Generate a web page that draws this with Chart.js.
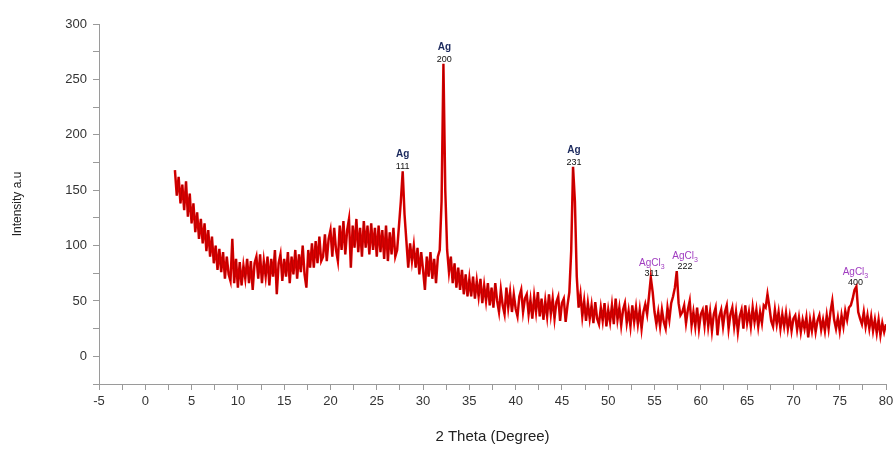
<!DOCTYPE html>
<html>
<head>
<meta charset="utf-8">
<script src="https://cdn.jsdelivr.net/npm/chart.js@4.4.1/dist/chart.umd.min.js"></script>
<style>
html,body{margin:0;padding:0;background:#fff;}
#wrap{width:896px;height:451px;position:relative;}
</style>
</head>
<body>
<div id="wrap"><canvas id="c" width="896" height="451"></canvas></div>
<script>
// 2-theta scan: start angle and step (degrees)
const scanStart = 3.2;
const scanStep = 0.2;

const intensity3to20 = [
  168,145,162,138,155, 132,158,126,147,120, 138,112,130,106,124, 102,120,95,114,90,
  108,84,100,78,97, 76,94,70,90,74, 68,106,66,88,62, 85,64,82,70,88,
  66,86,60,84,90, 70,92,66,86,72, 90,64,88,72,96, 56,84,92,68,88,
  72,94,66,90,74, 96,70,92,76,100, 74,62,96,80,102, 80,104,84,108,86,
  90,110,86,106,114
];
const intensity20to40 = [
  90,116,96,86,118, 96,122,92,114,124, 80,118,98,124,94, 116,90,122,98,118,
  92,120,96,116,90, 118,94,114,88,118, 86,112,92,116,90, 96,118,140,167,128,
  104,80,102,86,100, 80,98,74,94,78, 60,90,72,94,70, 88,66,90,96,140,
  264,150,96,76,90, 66,84,62,80,60, 78,56,74,54,70, 54,72,52,68,54,
  70,48,64,50,66, 46,62,44,66,50, 40,60,46,38,62, 44,58,40,56,43
];
const intensity40to60 = [
  36,54,60,40,52, 56,38,51,34,54, 40,58,36,52,33, 50,36,56,38,52,
  34,49,54,32,48, 52,31,46,58,95, 171,140,72,44,56, 36,50,32,48,34,
  46,30,49,34,29, 44,32,48,27,42, 31,46,29,52,33, 44,28,42,48,30,
  41,27,46,31,44, 29,42,25,40,47, 38,54,71,58,40, 29,40,27,42,31,
  25,44,33,48,54, 62,77,48,37,40, 46,30,42,50,28, 40,27,44,25,38
];
const intensity60to80 = [
  42,28,46,27,40, 23,38,44,19,36, 42,27,40,46,25, 38,44,27,40,22,
  36,42,25,46,30, 40,27,44,31,42, 27,40,30,46,44, 56,45,32,27,42,
  29,40,25,38,27, 39,25,36,23,34, 37,24,35,22,33, 25,35,17,33,23,
  35,22,32,37,24, 33,23,37,25,40, 50,33,25,35,23, 37,27,41,33,44,
  46,52,60,63,40, 34,29,40,27,37, 25,36,23,33,21, 33,19,30,22,29
];

// Peak labels
const peakLabelX = [27.8, 32.3, 46.3, 54.7, 58.3, 76.7];
const peakTop    = [167, 264, 171, 71, 77, 63];
const peakPhase  = ['Ag', 'Ag', 'Ag', 'AgCl3', 'AgCl3', 'AgCl3'];
const peakHkl    = ['111', '200', '231', '311', '222', '400'];

// Axis tick labels
const xTickLabels = ['-5','0','5','10','15','20','25','30','35','40','45','50','55','60','65','70','75','80'];
const yTickLabels = ['0','50','100','150','200','250','300'];

const intensity = [].concat(intensity3to20, intensity20to40, intensity40to60, intensity60to80);
const points = intensity.map((v, i) => ({ x: +(scanStart + i * scanStep).toFixed(2), y: v }));

const labelPlugin = {
  id: 'peakLabels',
  afterDatasetsDraw(chart) {
    const ctx = chart.ctx;
    const xs = chart.scales.x, ys = chart.scales.y;
    ctx.save();
    ctx.textAlign = 'left';
    ctx.textBaseline = 'alphabetic';
    peakLabelX.forEach((px, i) => {
      const cx = xs.getPixelForValue(px);
      const top = ys.getPixelForValue(peakTop[i]);
      ctx.font = '9px "Liberation Sans", Arial, sans-serif';
      ctx.fillStyle = '#111';
      const hw = ctx.measureText(peakHkl[i]).width;
      ctx.fillText(peakHkl[i], cx - hw / 2, top - 2);
      if (peakPhase[i] === 'Ag') {
        ctx.font = 'bold 10px "Liberation Sans", Arial, sans-serif';
        ctx.fillStyle = '#1c2a5e';
        const w = ctx.measureText('Ag').width;
        ctx.fillText('Ag', cx - w / 2, top - 14);
      } else {
        ctx.font = '10px "Liberation Sans", Arial, sans-serif';
        const w1 = ctx.measureText('AgCl').width;
        ctx.font = '7px "Liberation Sans", Arial, sans-serif';
        const w2 = ctx.measureText('3').width;
        const sx = cx - (w1 + w2) / 2;
        ctx.fillStyle = '#a03cc0';
        ctx.font = '10px "Liberation Sans", Arial, sans-serif';
        ctx.fillText('AgCl', sx, top - 12);
        ctx.font = '7px "Liberation Sans", Arial, sans-serif';
        ctx.fillText('3', sx + w1, top - 9);
      }
    });
    ctx.restore();
  }
};

new Chart(document.getElementById('c'), {
  type: 'line',
  data: {
    datasets: [
      {
        data: points,
        borderColor: 'rgba(50,0,0,0.45)',
        borderWidth: 0.5,
        pointRadius: 0,
        tension: 0,
        order: 0
      },
      {
        data: points,
        borderColor: '#e40000',
        borderWidth: 2.5,
        pointRadius: 0,
        tension: 0,
        order: 1
      }
    ]
  },
  options: {
    responsive: false,
    animation: false,
    events: [],
    layout: { padding: { top: 24, right: 10, bottom: 0, left: 0 } },
    plugins: { legend: { display: false }, tooltip: { enabled: false } },
    scales: {
      x: {
        type: 'linear',
        min: -5, max: 80,
        border: { color: '#9a9a9a', width: 1 },
        grid: { drawOnChartArea: false, tickLength: 6, color: '#9a9a9a' },
        ticks: {
          stepSize: 2.5,
          autoSkip: false,
          maxRotation: 0,
          padding: 4,
          color: '#333',
          font: { family: '"Liberation Sans", Arial, sans-serif', size: 13 },
          callback: (v) => { const s = String(v); return xTickLabels.includes(s) ? s : ''; }
        },
        title: {
          display: true,
          text: '2 Theta (Degree)',
          color: '#222',
          font: { family: '"Liberation Sans", Arial, sans-serif', size: 15 },
          padding: { top: 5, bottom: 5 }
        },
        afterFit: (s) => { s.paddingLeft = 0; s.paddingRight = 0; s.height = 67; }
      },
      y: {
        type: 'linear',
        min: -25, max: 300,
        border: { color: '#9a9a9a', width: 1 },
        grid: { drawOnChartArea: false, tickLength: 6, color: '#9a9a9a' },
        ticks: {
          stepSize: 25,
          autoSkip: false,
          padding: 6,
          color: '#333',
          font: { family: '"Liberation Sans", Arial, sans-serif', size: 13 },
          callback: (v) => { const s = String(v); return yTickLabels.includes(s) ? s : ''; }
        },
        title: {
          display: true,
          text: 'Intensity a.u',
          color: '#222',
          font: { family: '"Liberation Sans", Arial, sans-serif', size: 12 },
          padding: { top: 10, bottom: 0 }
        },
        afterFit: (s) => { s.paddingTop = 0; s.paddingBottom = 0; s.width = 99; }
      }
    }
  },
  plugins: [labelPlugin]
});
</script>
</body>
</html>
